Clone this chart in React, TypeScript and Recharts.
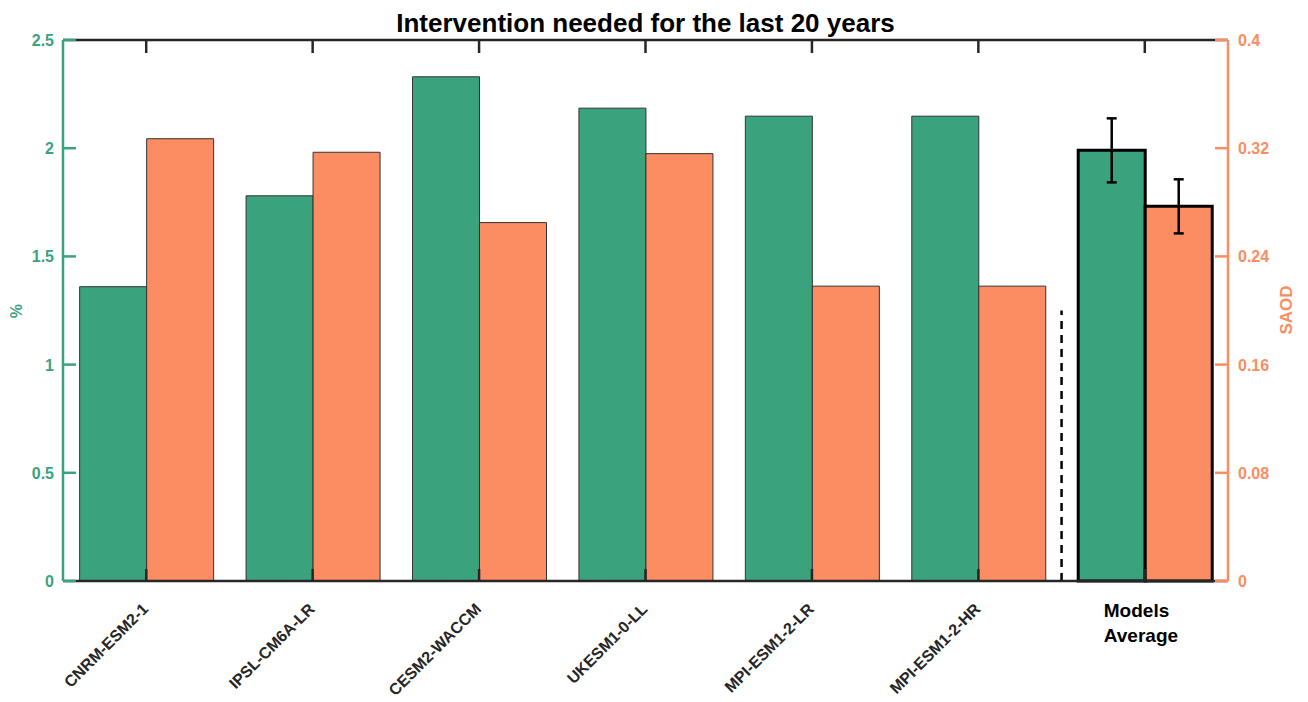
import React from 'react';
import { BarChart, Bar, XAxis, YAxis, Cell, ErrorBar, ReferenceLine } from 'recharts';

const models = ['CNRM-ESM2-1', 'IPSL-CM6A-LR', 'CESM2-WACCM', 'UKESM1-0-LL', 'MPI-ESM1-2-LR', 'MPI-ESM1-2-HR', 'Models Average'];
const percentNeeded = [1.36, 1.78, 2.33, 2.185, 2.148, 2.148, 1.99];
const saodNeeded = [0.327, 0.317, 0.265, 0.316, 0.218, 0.218, 0.277];
const percentErr = [null, null, null, null, null, null, 0.148];
const saodErr = [null, null, null, null, null, null, 0.02];
const leftTicks = [0, 0.5, 1, 1.5, 2, 2.5];
const rightTicks = [0, 0.08, 0.16, 0.24, 0.32, 0.4];
const separatorTop = 1.25;

const data = models.map((m, i) => ({
  model: m,
  pct: percentNeeded[i],
  saod: saodNeeded[i],
  pctErr: percentErr[i],
  saodErr: saodErr[i],
}));

const GREEN = '#3ba27e';
const ORANGE = '#fc8d62';
const DARK = '#262626';
const FONT = '"Liberation Sans", Arial, Helvetica, sans-serif';

const W = 1300;
const H = 690;
const PLOT_LEFT = 55;
const PLOT_RIGHT = 1220;
const PLOT_TOP = 32;
const PLOT_BOTTOM = 573;

const LeftTick = (props: any) => {
  const { x, y, payload } = props;
  return (
    <g>
      <line x1={x} y1={y} x2={x + 13} y2={y} stroke={GREEN} strokeWidth={2.5} />
      <text x={x - 9} y={y} dy={6} textAnchor="end" fill={GREEN} fontSize={16} fontWeight="bold" fontFamily={FONT}>
        {String(payload.value)}
      </text>
    </g>
  );
};

const RightTick = (props: any) => {
  const { x, y, payload } = props;
  return (
    <g>
      <line x1={x - 13} y1={y} x2={x} y2={y} stroke={ORANGE} strokeWidth={2.5} />
      <text x={x + 10} y={y} dy={6} textAnchor="start" fill={ORANGE} fontSize={16} fontWeight="bold" fontFamily={FONT}>
        {String(payload.value)}
      </text>
    </g>
  );
};

const CatTick = (props: any) => {
  const { x, y, payload } = props;
  const label: string = payload.value;
  const tick = <line x1={x} y1={y} x2={x} y2={y - 12} stroke={DARK} strokeWidth={2.5} />;
  if (label === 'Models Average') {
    return (
      <g>
        {tick}
        <text x={x - 41} y={y + 36} fill="#000" fontSize={19} fontWeight="bold" fontFamily={FONT}>
          <tspan x={x - 41}>Models</tspan>
          <tspan x={x - 41} dy={25}>Average</tspan>
        </text>
      </g>
    );
  }
  const tx = x + 3;
  const ty = y + 29;
  return (
    <g>
      {tick}
      <text x={tx} y={ty} textAnchor="end" transform={`rotate(-45, ${tx}, ${ty})`} fill={DARK} fontSize={16} fontWeight="bold" fontFamily={FONT}>
        {label}
      </text>
    </g>
  );
};

const TopTick = (props: any) => {
  const { x, y } = props;
  return <line x1={x} y1={y} x2={x} y2={y + 13} stroke={DARK} strokeWidth={2.5} />;
};

export default function App() {
  return (
    <div style={{ position: 'relative', width: W, height: H }}>
      <BarChart width={W} height={H} data={data} margin={{ top: PLOT_TOP - 1, right: 0, bottom: 0, left: 0 }} barCategoryGap="10%" barGap={0}>
        <XAxis xAxisId="cat" dataKey="model" height={H - PLOT_BOTTOM} interval={0} tickSize={0} tickMargin={0} tickLine={false} axisLine={{ stroke: DARK, strokeWidth: 2.5 }} tick={CatTick} />
        <XAxis xAxisId="top" dataKey="model" orientation="top" height={1} interval={0} tickSize={0} tickMargin={0} tickLine={false} axisLine={{ stroke: DARK, strokeWidth: 2.5 }} tick={TopTick} />
        <YAxis yAxisId="left" orientation="left" width={PLOT_LEFT} domain={[0, 2.5]} ticks={leftTicks} interval={0} tickSize={0} tickMargin={0} tickLine={false} axisLine={{ stroke: GREEN, strokeWidth: 2.5 }} tick={LeftTick} />
        <YAxis yAxisId="right" orientation="right" width={W - PLOT_RIGHT} domain={[0, 0.4]} ticks={rightTicks} interval={0} tickSize={0} tickMargin={0} tickLine={false} axisLine={{ stroke: ORANGE, strokeWidth: 2.5 }} tick={RightTick} />
        <Bar xAxisId="cat" yAxisId="left" dataKey="pct" fill={GREEN} isAnimationActive={false}>
          {data.map((d, i) => (
            <Cell key={i} stroke={i === data.length - 1 ? '#000' : '#333'} strokeWidth={i === data.length - 1 ? 3 : 1} />
          ))}
          <ErrorBar dataKey="pctErr" direction="y" width={5} stroke="#000" strokeWidth={2.5} isAnimationActive={false} />
        </Bar>
        <Bar xAxisId="cat" yAxisId="right" dataKey="saod" fill={ORANGE} isAnimationActive={false}>
          {data.map((d, i) => (
            <Cell key={i} stroke={i === data.length - 1 ? '#000' : '#333'} strokeWidth={i === data.length - 1 ? 3 : 1} />
          ))}
          <ErrorBar dataKey="saodErr" direction="y" width={5} stroke="#000" strokeWidth={2.5} isAnimationActive={false} />
        </Bar>
        <ReferenceLine
          xAxisId="cat"
          yAxisId="left"
          position="start"
          segment={[{ x: 'Models Average', y: 0 }, { x: 'Models Average', y: separatorTop }]}
          stroke="#000"
          strokeWidth={2.5}
          strokeDasharray="8 6"
        />
      </BarChart>
      <svg width={W} height={H} style={{ position: 'absolute', left: 0, top: 0, pointerEvents: 'none' }}>
        <text x={(PLOT_LEFT + PLOT_RIGHT) / 2} y={24} textAnchor="middle" fontSize={26} fontWeight="bold" fill="#000" fontFamily={FONT}>
          Intervention needed for the last 20 years
        </text>
        <text x={14} y={303} textAnchor="middle" transform="rotate(-90, 14, 303)" fontSize={16} fontWeight="bold" fill={GREEN} fontFamily={FONT}>
          %
        </text>
        <text x={1284} y={302} textAnchor="middle" transform="rotate(-90, 1284, 302)" fontSize={17} fontWeight="bold" fill={ORANGE} fontFamily={FONT}>
          SAOD
        </text>
      </svg>
    </div>
  );
}
